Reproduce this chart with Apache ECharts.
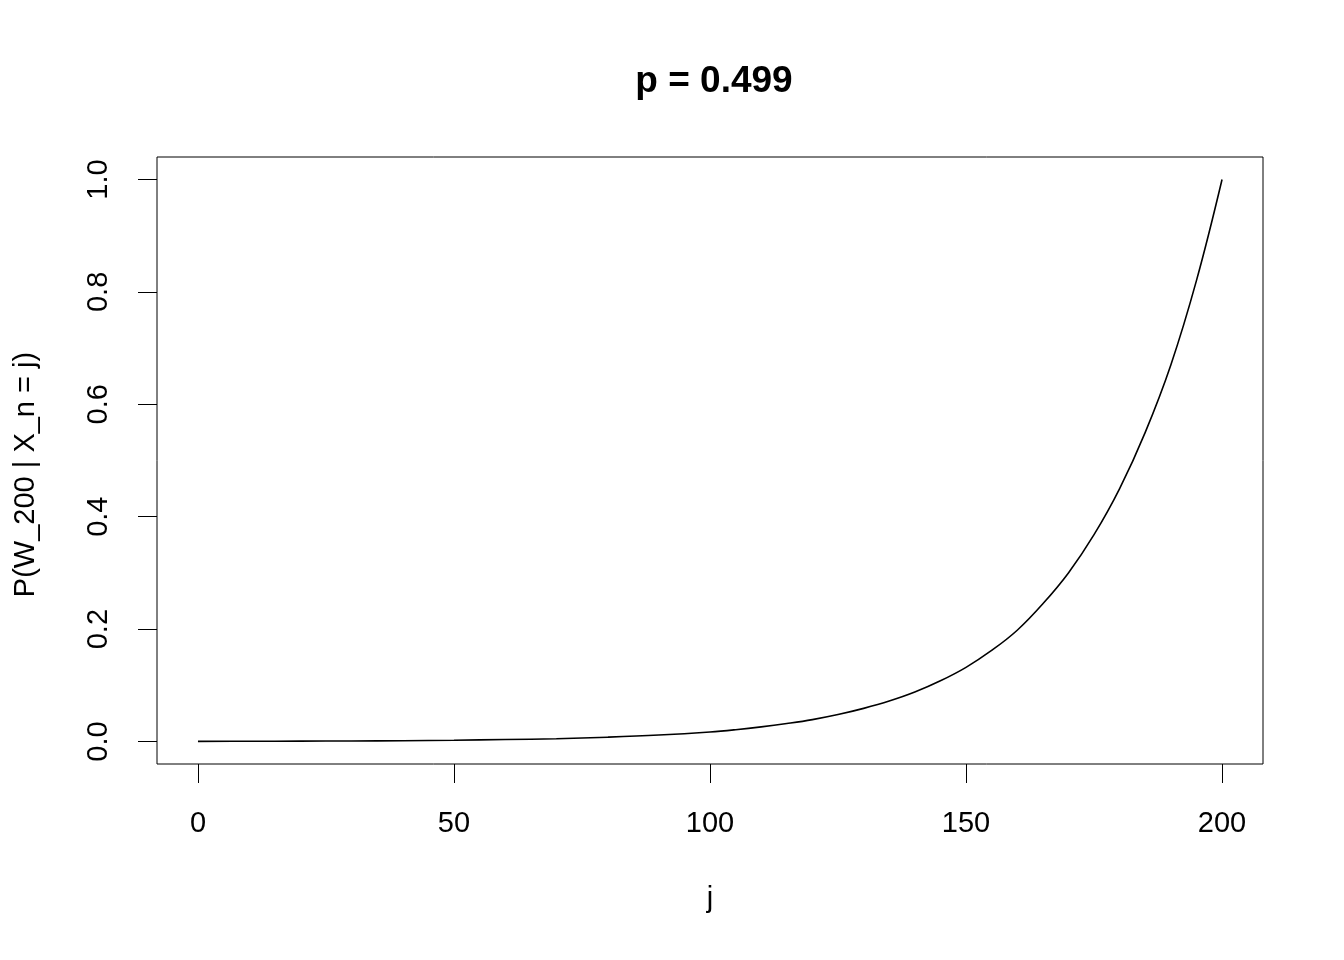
<!DOCTYPE html>
<html>
<head>
<meta charset="utf-8">
<script src="https://cdn.jsdelivr.net/npm/echarts@6/dist/echarts.min.js"></script>
<style>html,body{margin:0;padding:0;background:#fff}#c{width:1344px;height:960px}</style>
</head>
<body>
<div id="c"></div>
<script>
var titleText = 'p = 0.499';
var xName = 'j';
var yName = 'P(W_200 | X_n = j)';
var jValues = [0,10,20,30,40,50,60,70,80,90,100,105,110,115,120,125,130,135,140,145,150,155,160,165,170,175,180,185,190,195,200];
var probValues = [0.0003,0.0005,0.0007,0.001,0.0015,0.0023,0.0035,0.005,0.0077,0.0115,0.017,0.021,0.026,0.032,0.039,0.048,0.059,0.072,0.088,0.108,0.132,0.162,0.198,0.245,0.30,0.368,0.45,0.55,0.67,0.82,1.0];
var xTicks = [0,50,100,150,200];
var yTicks = [0,0.2,0.4,0.6,0.8,1.0];

var data = jValues.map(function(j,i){return [j, probValues[i]];});
var font = 'Liberation Sans, Arial, Helvetica, sans-serif';
var chart = echarts.init(document.getElementById('c'), null, {renderer:'canvas'});
chart.setOption({
  animation:false,
  backgroundColor:'#fff',
  title:{text:titleText, left:709, top:58, textAlign:'center',
    textStyle:{fontFamily:font, fontWeight:'bold', fontSize:37, color:'#000'}},
  grid:{left:157, right:81, top:157, bottom:196, show:true, borderColor:'#000', borderWidth:1,
    backgroundColor:'transparent', outerBoundsMode:'none', containLabel:false},
  xAxis:{type:'value', min:-8, max:208,
    name:xName, nameLocation:'middle', nameGap:120,
    nameTextStyle:{fontFamily:font, fontSize:29, color:'#000'},
    axisLine:{show:false, onZero:false}, splitLine:{show:false},
    axisTick:{show:true, inside:false, length:19, customValues:xTicks, lineStyle:{color:'#000', width:1}},
    axisLabel:{customValues:xTicks, margin:45, fontFamily:font, fontSize:29, color:'#000'}
  },
  yAxis:{type:'value', min:-0.04, max:1.04,
    name:yName, nameLocation:'middle', nameGap:117, nameRotate:90,
    nameTextStyle:{fontFamily:font, fontSize:29, color:'#000', padding:[0,28,0,0]},
    axisLine:{show:false, onZero:false}, splitLine:{show:false},
    axisTick:{show:true, inside:false, length:19, customValues:yTicks, lineStyle:{color:'#000', width:1}},
    axisLabel:{customValues:yTicks, rotate:90, margin:44, fontFamily:font, fontSize:29, color:'#000',
      align:'center', verticalAlign:'bottom',
      formatter:function(v){return v.toFixed(1);} }
  },
  series:[{type:'line', data:data, smooth:0.4, showSymbol:false,
    lineStyle:{color:'#000', width:1.6}}]
});
</script>
</body>
</html>
